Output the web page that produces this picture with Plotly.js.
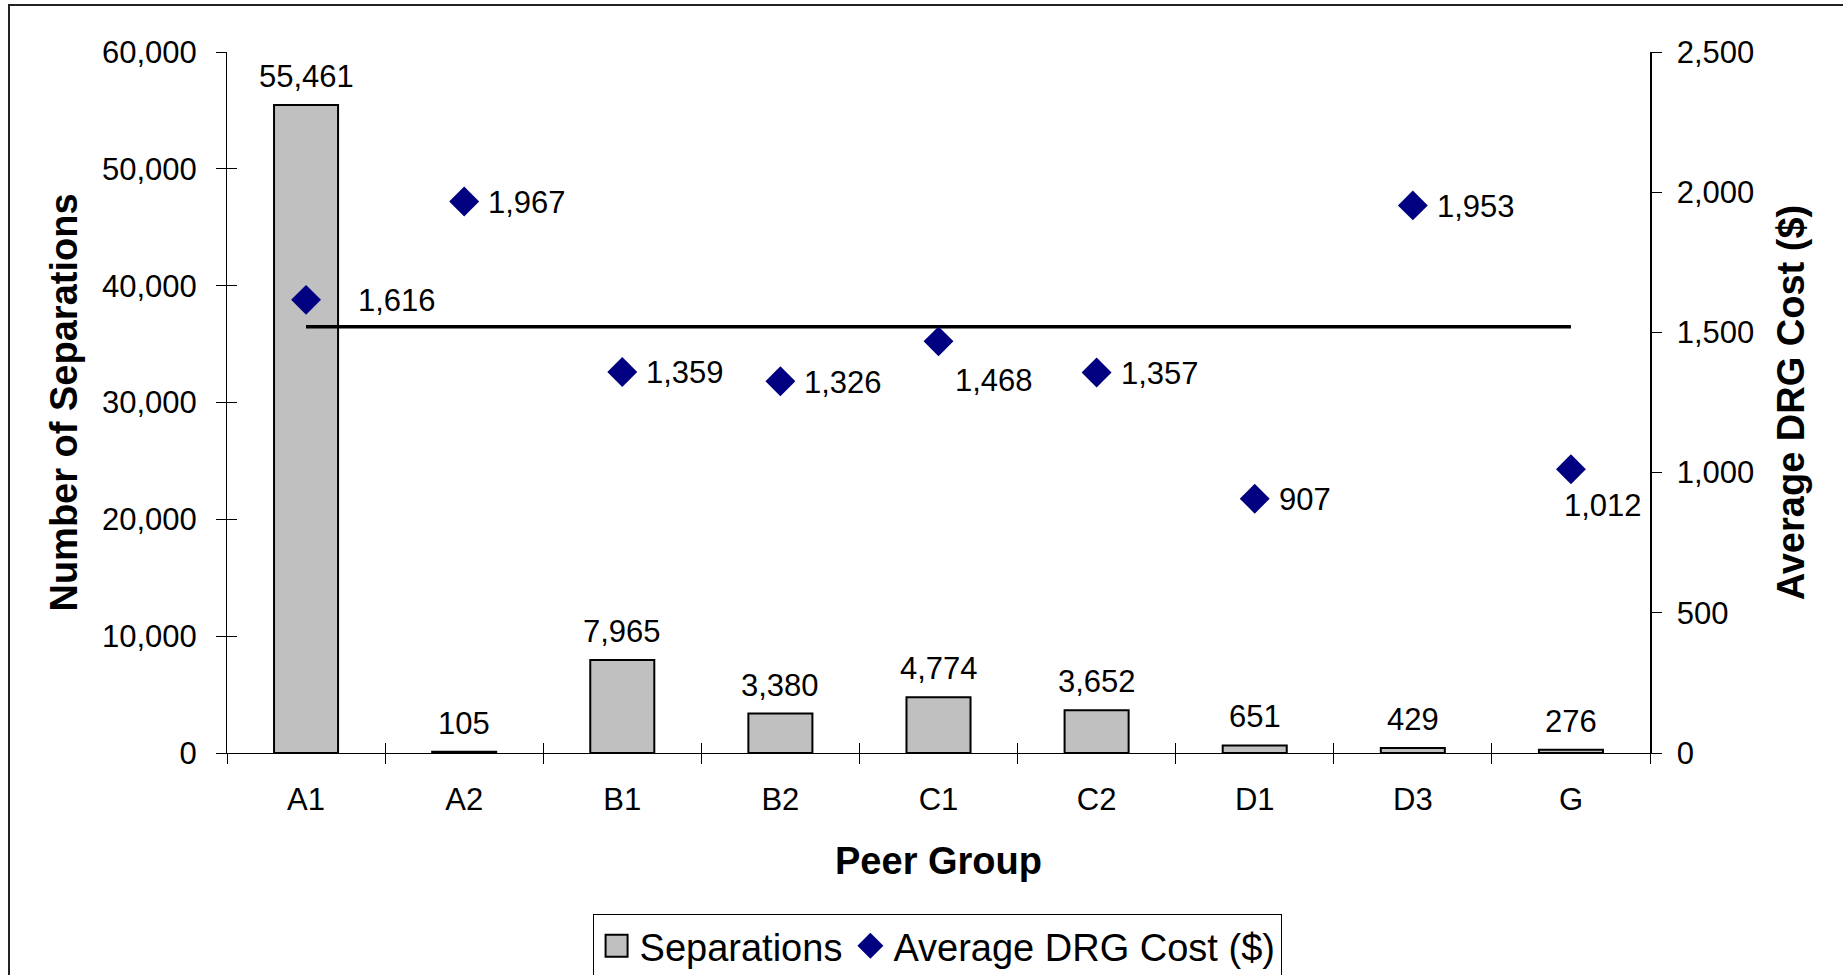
<!DOCTYPE html>
<html>
<head>
<meta charset="utf-8">
<script src="https://cdn.plot.ly/plotly-3.0.1.min.js"></script>
<style>
  html, body { margin: 0; padding: 0; background: #ffffff; }
  #chart { width: 1843px; height: 975px; }
</style>
</head>
<body>
<div id="chart"></div>
<script>
// ---- data ----
const peerGroups = ['A1', 'A2', 'B1', 'B2', 'C1', 'C2', 'D1', 'D3', 'G'];
const separations = [55461, 105, 7965, 3380, 4774, 3652, 651, 429, 276];
const avgDrgCost = [1616, 1967, 1359, 1326, 1468, 1357, 907, 1953, 1012];
const overallAverageCost = [1520, 1520, 1520, 1520, 1520, 1520, 1520, 1520, 1520];

// ---- styling ----
const FONT = 'Liberation Sans, Arial, Helvetica, sans-serif';
const TICK_SIZE = 31;
const TITLE_SIZE = 38;
const LEGEND_SIZE = 38;
// label placement (pixel shifts) for the cost labels
const defaultCostShift = [22, -1];
const costShift = { A1: [50, -1], C1: [14, -39], G: [-9, -36] };

const fmt = v => v.toLocaleString('en-US');

const traces = [
  {
    type: 'bar',
    name: 'Separations',
    x: peerGroups,
    y: separations,
    xaxis: 'x', yaxis: 'y',
    marker: { color: '#C0C0C0', line: { color: '#000000', width: 2 } },
    hoverinfo: 'x+y'
  },
  {
    type: 'scatter',
    mode: 'lines',
    name: 'Average',
    x: peerGroups,
    y: overallAverageCost,
    xaxis: 'x', yaxis: 'y2',
    line: { color: '#000000', width: 3.5 },
    showlegend: false,
    hoverinfo: 'skip'
  },
  {
    type: 'scatter',
    mode: 'markers',
    name: 'Average DRG Cost ($)',
    x: peerGroups,
    y: avgDrgCost,
    xaxis: 'x', yaxis: 'y2',
    marker: { symbol: 'diamond', size: 23, color: '#000080' },
    cliponaxis: false
  },
  {
    // carrier for the inner half of the crossing tick marks
    type: 'scatter', mode: 'markers', x: [], y: [],
    xaxis: 'x2', yaxis: 'y3', showlegend: false, hoverinfo: 'skip'
  }
];

const annotations = [];
peerGroups.forEach((g, i) => {
  annotations.push({
    x: g, y: separations[i], xref: 'x', yref: 'y',
    text: fmt(separations[i]), showarrow: false,
    xanchor: 'center', yanchor: 'middle', yshift: 28.5,
    font: { family: FONT, size: TICK_SIZE, color: '#000000' }
  });
  const s = costShift[g] || defaultCostShift;
  annotations.push({
    x: g, y: avgDrgCost[i], xref: 'x', yref: 'y2',
    text: fmt(avgDrgCost[i]), showarrow: false,
    xanchor: 'left', yanchor: 'middle', xshift: s[0], yshift: s[1],
    font: { family: FONT, size: TICK_SIZE, color: '#000000' }
  });
});

const layout = {
  width: 1843, height: 975,
  margin: { l: 227, r: 193, t: 52, b: 222, pad: 0, autoexpand: false },
  paper_bgcolor: '#ffffff', plot_bgcolor: '#ffffff',
  font: { family: FONT, size: TICK_SIZE, color: '#000000' },
  bargap: 0.595,
  showlegend: true,
  legend: {
    orientation: 'h', xanchor: 'center', x: 0.499, yanchor: 'top', y: -0.229,
    bordercolor: '#000000', borderwidth: 1, bgcolor: '#ffffff',
    font: { family: FONT, size: LEGEND_SIZE, color: '#000000' },
    itemwidth: 36,
    traceorder: 'normal'
  },
  xaxis: {
    type: 'category', categoryarray: peerGroups, range: [-0.5, 8.5],
    showline: true, linecolor: '#000000', linewidth: 1,
    ticks: 'outside', tickson: 'boundaries', ticklen: 10, tickcolor: '#000000', tickwidth: 1,
    ticklabelstandoff: 19,
    showgrid: false, zeroline: false,
    tickfont: { family: FONT, size: TICK_SIZE, color: '#000000' },
    title: { text: 'Peer Group', standoff: 31, font: { family: FONT, size: TITLE_SIZE, weight: 'bold', color: '#000000' } },
    fixedrange: true
  },
  xaxis2: {
    overlaying: 'x', anchor: 'y3', side: 'bottom', type: 'linear',
    range: [-0.5, 8.5], tick0: -0.5, dtick: 1,
    ticks: 'inside', ticklen: 10, tickcolor: '#000000', tickwidth: 1,
    showticklabels: false, showline: false, showgrid: false, zeroline: false, fixedrange: true
  },
  yaxis: {
    range: [0, 60000], dtick: 10000, tickformat: ',d',
    showline: true, linecolor: '#000000', linewidth: 1,
    ticks: 'outside', ticklen: 10, tickcolor: '#000000', tickwidth: 1,
    ticklabelstandoff: 13,
    showgrid: false, zeroline: false,
    tickfont: { family: FONT, size: TICK_SIZE, color: '#000000' },
    title: { text: 'Number of Separations', standoff: 12, font: { family: FONT, size: TITLE_SIZE, weight: 'bold', color: '#000000' } },
    fixedrange: true
  },
  yaxis3: {
    overlaying: 'y', anchor: 'x2', side: 'left',
    range: [0, 60000], dtick: 10000,
    ticks: 'inside', ticklen: 10, tickcolor: '#000000', tickwidth: 1,
    showticklabels: false, showline: false, showgrid: false, zeroline: false, fixedrange: true
  },
  yaxis2: {
    overlaying: 'y', side: 'right', anchor: 'x',
    range: [0, 2500], dtick: 500, tickformat: ',d',
    showline: true, linecolor: '#000000', linewidth: 1.5,
    ticks: 'outside', ticklen: 10, tickcolor: '#000000', tickwidth: 1,
    ticklabelstandoff: 9,
    showgrid: false, zeroline: false,
    tickfont: { family: FONT, size: TICK_SIZE, color: '#000000' },
    title: { text: 'Average DRG Cost ($)', standoff: 24, font: { family: FONT, size: TITLE_SIZE, weight: 'bold', color: '#000000' } },
    fixedrange: true
  },
  annotations: annotations,
  shapes: [
    {
      type: 'rect', xref: 'paper', yref: 'paper', layer: 'below',
      x0: -0.1532, x1: 1.25, y0: -0.5, y1: 1.067,
      line: { color: '#222222', width: 2 }, fillcolor: 'rgba(0,0,0,0)'
    }
  ]
};

Plotly.newPlot('chart', traces, layout, { displayModeBar: false, staticPlot: true }).then(gd => {
  // enlarge the legend keys to match the reference key sizes
  gd.querySelectorAll('.legend .legendpoints path').forEach(p => {
    const d = (p.getAttribute('d') || '').replace(/\s/g, '');
    if (d === 'M6,6H-6V-6H6Z') {
      p.setAttribute('d', 'M11,11H-11V-11H11Z');
    } else if (/^M[\d.]+,0L0,[\d.]+L-[\d.]+,0L0,-[\d.]+Z$/.test(d)) {
      p.setAttribute('d', 'M13,0L0,13L-13,0L0,-13Z');
    }
  });
});
</script>
</body>
</html>
